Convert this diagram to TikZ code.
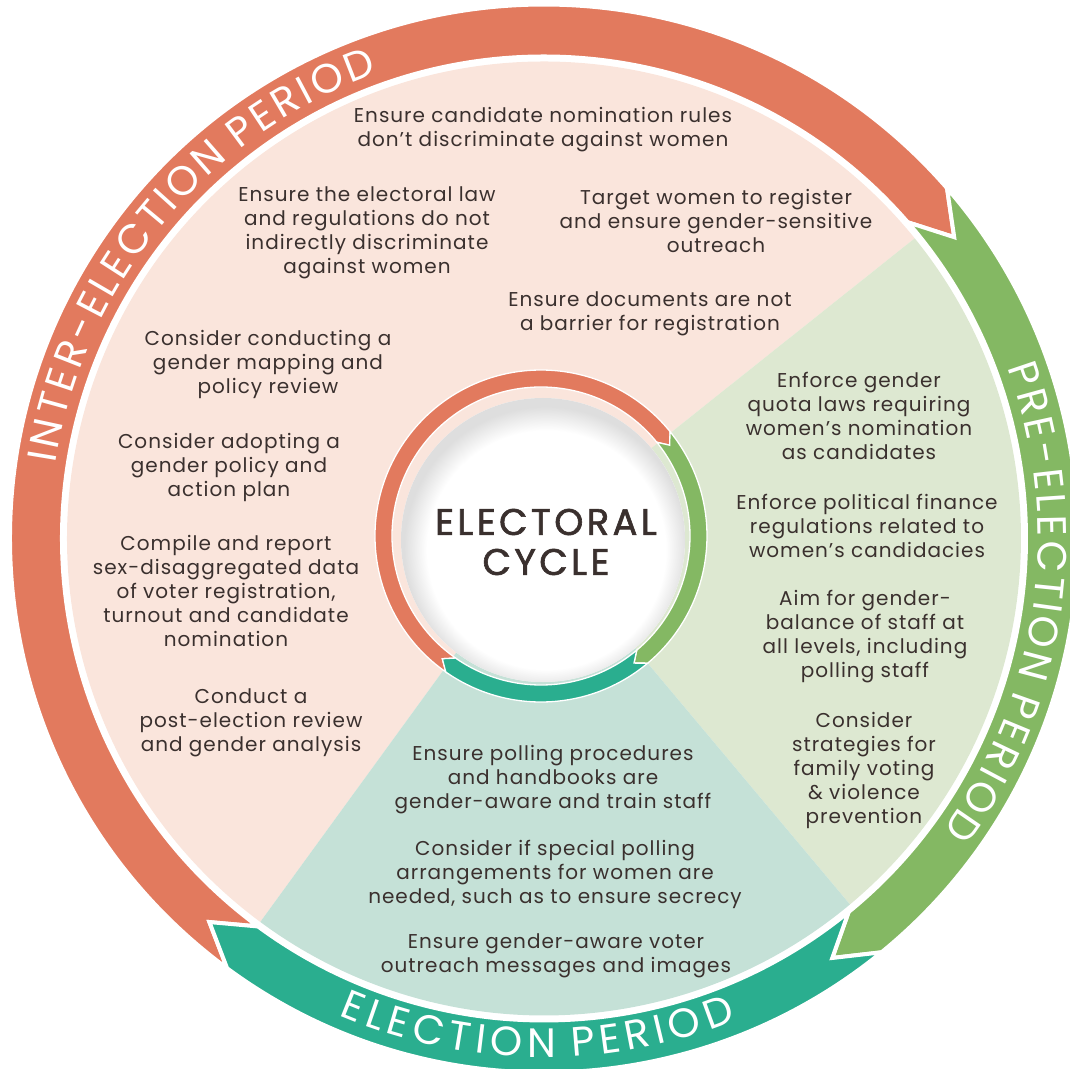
\documentclass[tikz,border=0pt]{standalone}
\usepackage{fontspec}
\setmainfont{Poppins}
\newfontfamily\itemfont[LetterSpace=5]{Poppins}
\newfontfamily\bandfont{Poppins}
\newfontfamily\titlefont[LetterSpace=9,FakeBold=1.6]{Poppins}
\usetikzlibrary{decorations.text}
\definecolor{orangeband}{RGB}{226,122,94}
\definecolor{greenband}{RGB}{132,184,99}
\definecolor{tealband}{RGB}{42,174,143}
\definecolor{pinkbg}{RGB}{250,229,220}
\definecolor{greenbg}{RGB}{221,232,209}
\definecolor{tealbg}{RGB}{197,225,215}
\definecolor{txtcol}{RGB}{58,48,46}
\newcommand\lsa{\kern3.4pt}
\newcommand\lsb{\kern5.5pt}
\pgfdeclareradialshading{diskrim}{\pgfpoint{1bp}{-3bp}}{color(0bp)=(white); color(21bp)=(white); color(25bp)=(black!13); color(50bp)=(black!13)}
\begin{document}
\begin{tikzpicture}[x=1pt,y=1pt,
	itemtxt/.style={text=txtcol,align=center,inner sep=0pt,font=\itemfont\fontsize{20}{24}\selectfont},
	bandtxt/.style={decorate,decoration={text along path,text align=center,text color=white,
		text={|\bandfont\fontsize{41}{41}\selectfont|#1}}}]
	\useasboundingbox (-544,-529.5) rectangle (526,538.5);
	\clip (-544,-529.5) rectangle (526,538.5);
	%	\draw[gray,very thin,step=50] (-544,-529.5) grid (526,538.5);
	% sectors of the disc
	\coordinate (hub) at (-3,2.5);
	\fill[pinkbg] (hub) -- (39:477) arc[start angle=39,end angle=233.5,radius=477] -- cycle;
	\fill[greenbg] (hub) -- (-50.1:477) arc[start angle=-50.1,end angle=39,radius=477] -- cycle;
	\fill[tealbg] (hub) -- (-126.5:477) arc[start angle=-126.5,end angle=-50.1,radius=477] -- cycle;
	% outer arrows
	\foreach \col/\a/\b in {orangeband/233.6/41,greenband/41/-50.8,tealband/-50.8/-126.4}
		\filldraw[fill=\col,draw=white,line width=4pt,line join=miter] (\a:534) arc[start angle=\a,end angle=\b,radius=534]
			-- ({\b-4.7}:509) -- (\b:482) arc[start angle=\b,end angle=\a,radius=482] -- ({\a-4.7}:509) -- cycle;
	% inner arrows
	\begin{scope}[shift={(hub)}]
	\foreach \col/\a/\b in {orangeband/235/39,greenband/39/-50,tealband/-50/-125}
		\filldraw[fill=\col,draw=white,line width=1.3pt,line join=miter] (\a:166) arc[start angle=\a,end angle=\b,radius=166]
			-- ({\b-3.8}:157.5) -- (\b:149) arc[start angle=\b,end angle=\a,radius=149] -- ({\a-3.8}:157.5) -- cycle;
	\end{scope}
	\fill[white] (-1,-1.5) circle[radius=142];
	\shade[shading=diskrim] (-1,-1.5) circle[radius=142];
	\node[text=txtcol,align=center,font=\titlefont\fontsize{37}{40}\selectfont] (title) at (2,-3.5) {ELECTORAL\\CYCLE};
	% period names
	\path[bandtxt={{I\lsa}{N\lsa}{T\lsa}{E\lsa}{R\lsa}{-\lsa}{E\lsa}{L\lsa}{E\lsa}{C\lsa}{T\lsa}{I\lsa}{O\lsa}{N\lsa} {P\lsa}{E\lsa}{R\lsa}{I\lsa}{O\lsa}{D}}]
		(176:494) arc[start angle=176,end angle=105,radius=494];
	\path[bandtxt={{P\lsa}{R\lsa}{E\lsa}{-\lsa}{E\lsa}{L\lsa}{E\lsa}{C\lsa}{T\lsa}{I\lsa}{O\lsa}{N\lsa} {P\lsa}{E\lsa}{R\lsa}{I\lsa}{O\lsa}{D}}]
		(28.5:494) arc[start angle=28.5,end angle=-44.5,radius=494];
	\path[bandtxt={{E\lsb}{L\lsb}{E\lsb}{C\lsb}{T\lsb}{I\lsb}{O\lsb}{N\lsb} {P\lsb}{E\lsb}{R\lsb}{I\lsb}{O\lsb}{D}}]
		(-128:519) arc[start angle=-128,end angle=-53.6,radius=519];
	% inter-election
	\node[itemtxt] (cand) at (-1,408.5) {Ensure candidate nomination rules\\don’t discriminate against women};
	\node[itemtxt] (law) at (-177,305.5) {Ensure the electoral law\\and regulations do not\\indirectly discriminate\\against women};
	\node[itemtxt] (target) at (172,317.5) {Target women to register\\and ensure gender-sensitive\\outreach};
	\node[itemtxt] (docs) at (106,224.5) {Ensure documents are not\\a barrier for registration};
	\node[itemtxt] (mapping) at (-276,174.5) {Consider conducting a\\gender mapping and\\policy review};
	\node[itemtxt] (actplan) at (-315,71.5) {Consider adopting a\\gender policy and\\action plan};
	\node[itemtxt] (compile) at (-318,-52.5) {Compile and report\\sex-disaggregated data\\of voter registration,\\turnout and candidate\\nomination};
	\node[itemtxt] (review) at (-293,-184.5) {Conduct a\\post-election review\\and gender analysis};
	% pre-election
	\node[itemtxt] (quota) at (315,122.5) {Enforce gender\\quota laws requiring\\women’s nomination\\as candidates};
	\node[itemtxt] (finance) at (323,12.5) {Enforce political finance\\regulations related to\\women’s candidacies};
	\node[itemtxt] (staffbal) at (321,-98.5) {Aim for gender-\\balance of staff at\\all levels, including\\polling staff};
	\node[itemtxt] (family) at (320,-231.5) {Consider\\strategies for\\family voting\\\& violence\\prevention};
	% election
	\node[itemtxt] (polling) at (9,-241.5) {Ensure polling procedures\\and handbooks are\\gender-aware and train staff};
	\node[itemtxt] (special) at (11,-335.5) {Consider if special polling\\arrangements for women are\\needed, such as to ensure secrecy};
	\node[itemtxt] (outreach) at (12,-417.5) {Ensure gender-aware voter\\outreach messages and images};
\end{tikzpicture}
\end{document}
